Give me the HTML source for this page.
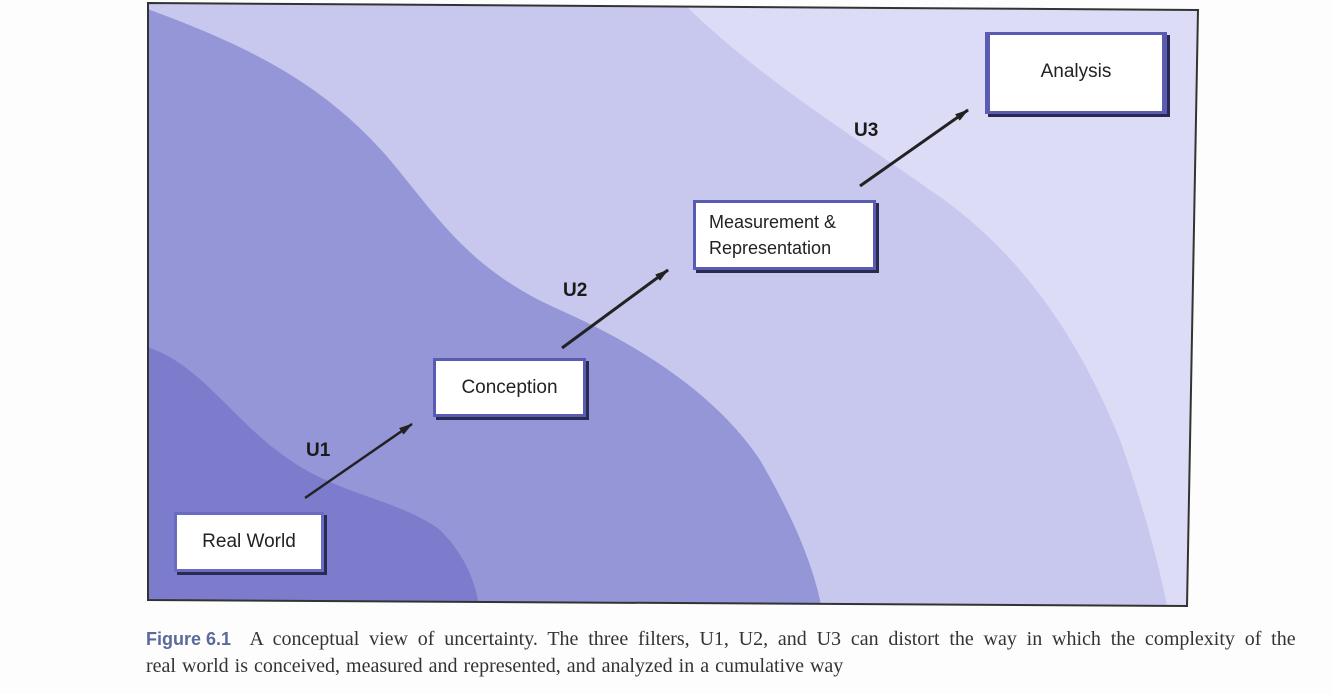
<!DOCTYPE html>
<html><head><meta charset="utf-8"><style>
body{margin:0;width:1332px;height:694px;background:#fdfdfd;position:relative;overflow:hidden;font-family:"Liberation Sans",sans-serif}
.box{position:absolute;background:#fff;border:3px solid #5a5cb4;border-top-width:3px;box-shadow:3px 3px 0 #2a2a50;display:flex;align-items:center;justify-content:center;color:#222;font-size:19px;line-height:26px;box-sizing:border-box}
.lbl{position:absolute;font-weight:bold;font-size:19px;color:#1a1a1a}
.cap{position:absolute;left:146px;font-family:"Liberation Serif",serif;font-size:20px;color:#333;white-space:nowrap}
</style></head><body>
<svg width="1332" height="694" style="position:absolute;left:0;top:0">
<defs><clipPath id="c"><polygon points="148,3 1198,10 1187,606 148,600"/></clipPath>
<marker id="a" markerUnits="userSpaceOnUse" markerWidth="14" markerHeight="8" refX="13" refY="4" orient="auto"><path d="M0,0 L14,4 L0,8 z" fill="#222"/></marker></defs>
<g clip-path="url(#c)">
<rect x="140" y="0" width="1070" height="610" fill="#dcdcf6"/>
<path d="M140,0 L680,0 C760,80 860,140 930,190 C1020,250 1080,340 1120,440 C1145,510 1160,570 1168,610 L140,610 Z" fill="#c8c8ee"/>
<path d="M140,0 L150,10 C260,50 330,90 390,160 C440,220 470,270 560,310 C650,350 720,400 760,460 C795,520 815,570 822,610 L140,610 Z" fill="#9596d8"/>
<path d="M140,345 C200,360 230,420 290,460 C340,495 400,500 440,530 C465,555 475,580 480,610 L140,610 Z" fill="#7d7ccc"/>
</g>
<polygon points="148,3 1198,10 1187,606 148,600" fill="none" stroke="#333" stroke-width="2"/>
<line x1="305" y1="498" x2="412" y2="424" stroke="#222" stroke-width="2.5" marker-end="url(#a)"/>
<line x1="562" y1="348" x2="668" y2="270" stroke="#222" stroke-width="3" marker-end="url(#a)"/>
<line x1="860" y1="186" x2="968" y2="110" stroke="#222" stroke-width="3" marker-end="url(#a)"/>
</svg>
<div class="box" style="left:985px;top:32px;width:182px;height:82px;border-left-width:5px;border-right-width:5px;align-items:flex-start;padding-top:24px">Analysis</div>
<div class="box" style="left:693px;top:200px;width:183px;height:70px;flex-direction:column;align-items:flex-start;padding-left:13px;font-size:18px;line-height:26px"><div>Measurement &amp;</div><div>Representation</div></div>
<div class="box" style="left:433px;top:358px;width:153px;height:59px">Conception</div>
<div class="box" style="left:174px;top:512px;width:150px;height:60px;border-color:#6a6cc4">Real World</div>
<div class="lbl" style="left:306px;top:440px">U1</div>
<div class="lbl" style="left:563px;top:280px">U2</div>
<div class="lbl" style="left:854px;top:120px">U3</div>
<div class="cap" style="top:628px;word-spacing:4.8px"><span style="font-family:'Liberation Sans',sans-serif;font-weight:bold;color:#5a6a9a;font-size:18px;word-spacing:0">Figure 6.1</span>&nbsp; A conceptual view of uncertainty. The three filters, U1, U2, and U3 can distort the way in which the complexity of the</div>
<div class="cap" style="top:655px;word-spacing:1px">real world is conceived, measured and represented, and analyzed in a cumulative way</div>
</body></html>
